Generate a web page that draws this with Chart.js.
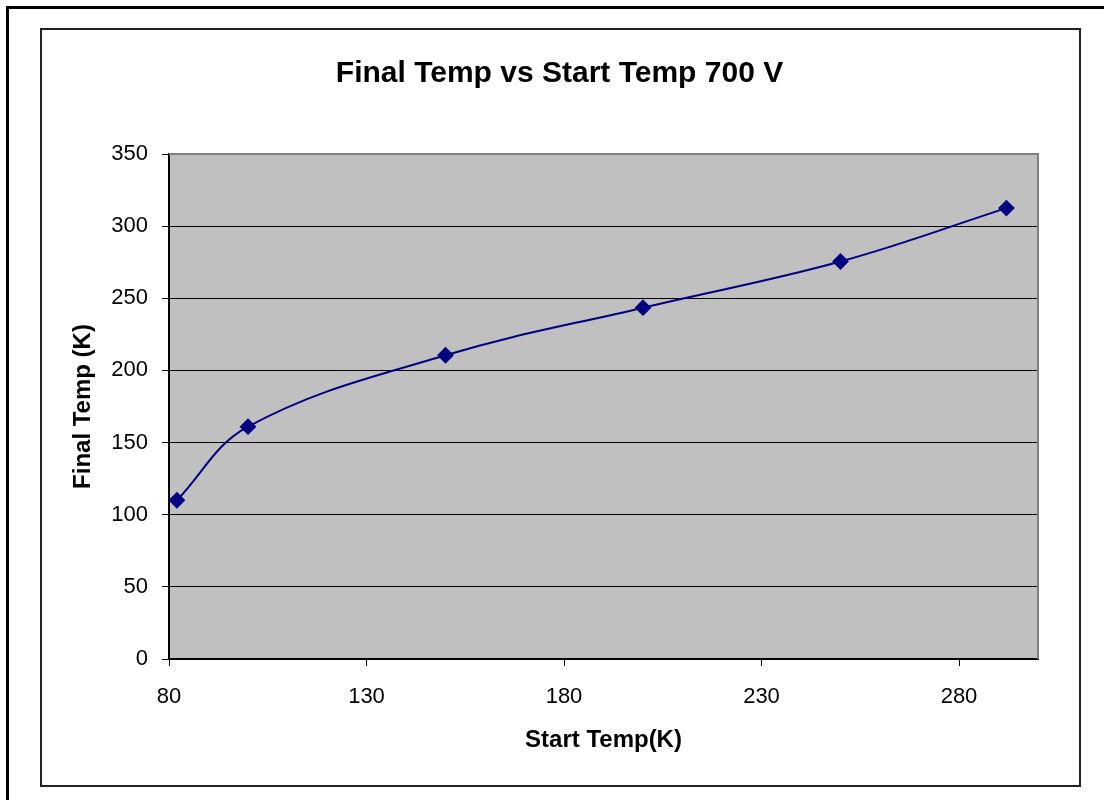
<!DOCTYPE html>
<html>
<head>
<meta charset="utf-8">
<script src="https://cdn.jsdelivr.net/npm/chart.js@4/dist/chart.umd.min.js"></script>
<style>
  body { margin: 0; background: #fff; }
  canvas { display: block; }
</style>
</head>
<body>
<canvas id="chart" width="1104" height="800"></canvas>
<script>
// données
const startTemp = [82, 100, 150, 200, 250, 292];
const finalTemp = [110, 161, 210.5, 243.5, 275.5, 312.5];
const xTicks = [80, 130, 180, 230, 280];
const yTicks = [0, 50, 100, 150, 200, 250, 300, 350];

const FONT = "'Liberation Sans', Arial, sans-serif";
const NAVY = "#000080";

// fond, cadres et bordure de la zone de tracé
const frames = {
  id: "frames",
  afterLayout(chart) {
    // titre centré dans le cadre intérieur
    if (chart.titleBlock) {
      chart.titleBlock.left = 40;
      chart.titleBlock.right = 1079;
      chart.titleBlock.width = 1039;
    }
  },
  beforeDraw(chart) {
    const c = chart.ctx;
    const a = chart.chartArea;
    c.save();
    c.fillStyle = "#fff";
    c.fillRect(0, 0, chart.width, chart.height);
    c.strokeStyle = "#000";
    c.lineWidth = 3;
    c.strokeRect(7.5, 7.5, 1200, 1000);
    c.lineWidth = 2;
    c.strokeStyle = "#222";
    c.strokeRect(41, 29, 1039, 757);
    c.fillStyle = "#C0C0C0";
    c.fillRect(a.left, a.top, a.right - a.left, a.bottom - a.top);
    c.restore();
  },
  beforeDatasetsDraw(chart) {
    const c = chart.ctx;
    const a = chart.chartArea;
    c.save();
    c.strokeStyle = "#808080";
    c.lineWidth = 2;
    c.beginPath();
    c.moveTo(a.left, a.top);
    c.lineTo(a.right, a.top);
    c.lineTo(a.right, a.bottom);
    c.stroke();
    c.restore();
  }
};

const points = startTemp.map((x, i) => ({ x: x, y: finalTemp[i] }));

new Chart(document.getElementById("chart").getContext("2d"), {
  type: "line",
  data: {
    datasets: [{
      data: points,
      borderColor: NAVY,
      borderWidth: 2,
      backgroundColor: NAVY,
      pointStyle: "rectRot",
      pointRadius: 7,
      pointHoverRadius: 7,
      tension: 0.38,
      fill: false
    }]
  },
  options: {
    responsive: false,
    animation: false,
    events: [],
    layout: { padding: { top: 0, left: 0, right: 66, bottom: 0 } },
    plugins: {
      legend: { display: false },
      tooltip: { enabled: false },
      title: {
        display: true,
        text: "Final Temp vs Start Temp 700 V",
        color: "#000",
        font: { family: FONT, size: 30, weight: "bold", lineHeight: 1.2 },
        padding: { top: 56, bottom: 62 }
      }
    },
    scales: {
      x: {
        type: "linear",
        min: 80,
        max: 300,
        afterBuildTicks: s => { s.ticks = xTicks.map(v => ({ value: v })); },
        afterFit: s => { s.height = 141; },
        grid: { drawOnChartArea: false, drawTicks: true, tickLength: 7, color: "#000" },
        border: { color: "#000", width: 2 },
        ticks: { color: "#000", padding: 18, font: { family: FONT, size: 22 } },
        title: {
          display: true,
          text: "Start Temp(K)",
          color: "#000",
          font: { family: FONT, size: 24, weight: "bold", lineHeight: 1.2 },
          padding: 45
        }
      },
      y: {
        min: 0,
        max: 350,
        afterBuildTicks: s => { s.ticks = yTicks.map(v => ({ value: v })); },
        afterFit: s => { s.width = 169; },
        grid: { color: "#000", lineWidth: 1, tickLength: 7 },
        border: { color: "#000", width: 2 },
        ticks: { color: "#000", padding: 14, font: { family: FONT, size: 22 } },
        title: {
          display: true,
          text: "Final Temp (K)",
          color: "#000",
          font: { family: FONT, size: 24, weight: "bold", lineHeight: 1.2 },
          padding: 69
        }
      }
    }
  },
  plugins: [frames]
});
</script>
</body>
</html>
